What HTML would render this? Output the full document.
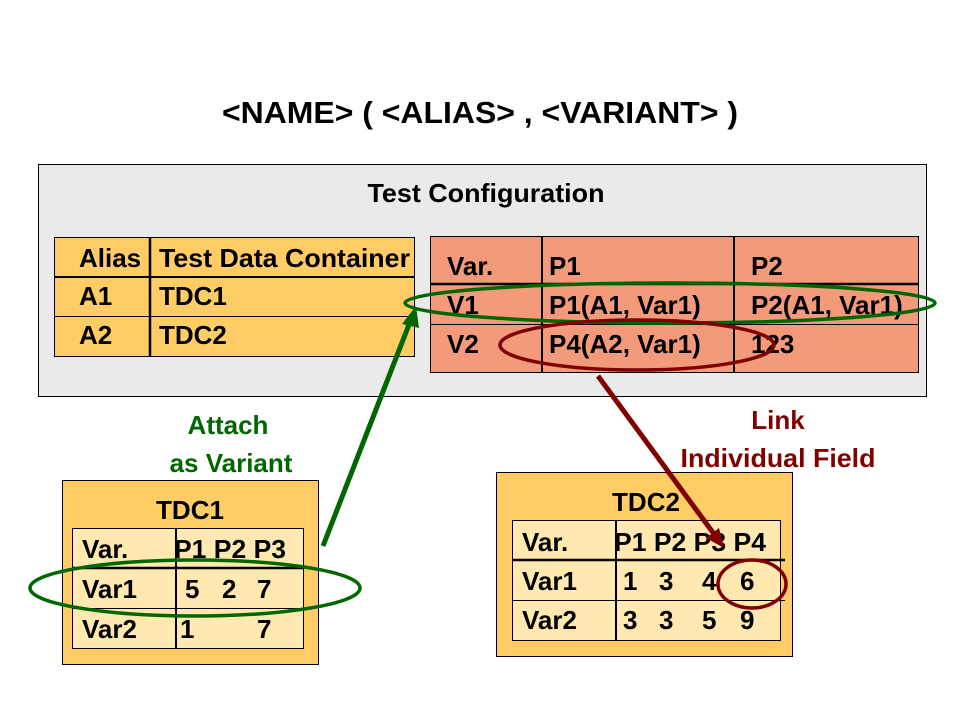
<!DOCTYPE html>
<html><head><meta charset="utf-8"><style>html,body{margin:0;padding:0;background:#fff}svg{display:block}text{font-family:"Liberation Sans",Arial,sans-serif;font-weight:bold;fill:#000}</style></head>
<body>
<svg width="960" height="720" viewBox="0 0 960 720" xmlns="http://www.w3.org/2000/svg">
<text x="480" y="123" font-size="31" text-anchor="middle" textLength="516" lengthAdjust="spacingAndGlyphs">&lt;NAME&gt; ( &lt;ALIAS&gt; , &lt;VARIANT&gt; )</text>
<rect x="38.5" y="164.5" width="888" height="232" fill="#eaeaea" stroke="#000" stroke-width="1"/>
<text x="486" y="202" font-size="26" text-anchor="middle" textLength="237" lengthAdjust="spacingAndGlyphs">Test Configuration</text>
<!-- alias table -->
<rect x="54.5" y="237.5" width="360" height="119" fill="#ffcc66" stroke="#000"/>
<line x1="54" y1="277" x2="414" y2="277" stroke="#000" stroke-width="2"/>
<line x1="54" y1="316.5" x2="414" y2="316.5" stroke="#000" stroke-width="1"/>
<line x1="150" y1="237" x2="150" y2="356" stroke="#000" stroke-width="2.5"/>
<g font-size="26"><text x="79" y="267">Alias</text><text x="159" y="267" textLength="251" lengthAdjust="spacingAndGlyphs">Test Data Container</text>
<text x="79" y="305">A1</text><text x="159" y="305">TDC1</text>
<text x="79" y="344">A2</text><text x="159" y="344">TDC2</text></g>
<!-- variant table -->
<rect x="430.5" y="236.5" width="488" height="136" fill="#f29a7a" stroke="#000"/>
<line x1="430" y1="284" x2="918" y2="284" stroke="#000" stroke-width="2.5"/>
<line x1="430" y1="324.5" x2="918" y2="324.5" stroke="#000" stroke-width="1"/>
<line x1="542" y1="236" x2="542" y2="372" stroke="#000" stroke-width="2"/>
<line x1="734" y1="236" x2="734" y2="372" stroke="#000" stroke-width="2"/>
<g font-size="26"><text x="447" y="275">Var.</text><text x="549" y="275">P1</text><text x="751" y="275">P2</text>
<text x="447" y="314">V1</text><text x="549" y="314">P1(A1, Var1)</text><text x="751" y="314">P2(A1, Var1)</text>
<text x="447" y="353">V2</text><text x="549" y="353">P4(A2, Var1)</text><text x="751" y="353">123</text></g>
<!-- TDC1 -->
<rect x="62.5" y="480.5" width="256" height="184" fill="#ffcc66" stroke="#000"/>
<text x="190" y="519" font-size="26" text-anchor="middle">TDC1</text>
<rect x="72.5" y="528.5" width="231" height="120" fill="#ffe9b0" stroke="#000"/>
<line x1="72" y1="568" x2="303" y2="568" stroke="#000" stroke-width="2.5"/>
<line x1="72" y1="608.5" x2="303" y2="608.5" stroke="#000"/>
<line x1="176" y1="528" x2="176" y2="648" stroke="#000" stroke-width="2"/>
<g font-size="26"><text x="82" y="558">Var.</text><text x="174" y="558" textLength="112" lengthAdjust="spacingAndGlyphs">P1 P2 P3</text>
<text x="82" y="598">Var1</text><text x="185" y="598">5</text><text x="222" y="598">2</text><text x="257" y="598">7</text>
<text x="82" y="638">Var2</text><text x="180" y="638">1</text><text x="257" y="638">7</text></g>
<!-- TDC2 -->
<rect x="496.5" y="472.5" width="296" height="184" fill="#ffcc66" stroke="#000"/>
<text x="646" y="511" font-size="26" text-anchor="middle">TDC2</text>
<rect x="512.5" y="520.5" width="268" height="120" fill="#ffe9b0" stroke="#000"/>
<line x1="512" y1="560" x2="785" y2="560" stroke="#000" stroke-width="2.5"/>
<line x1="512" y1="600.5" x2="785" y2="600.5" stroke="#000"/>
<line x1="616" y1="520" x2="616" y2="640" stroke="#000" stroke-width="2"/>
<g font-size="26"><text x="522" y="551">Var.</text><text x="614" y="551" textLength="152" lengthAdjust="spacingAndGlyphs">P1 P2 P3 P4</text>
<text x="522" y="590">Var1</text><text x="623" y="590">1</text><text x="659" y="590">3</text><text x="702" y="590">4</text><text x="740" y="590">6</text>
<text x="522" y="629">Var2</text><text x="623" y="629">3</text><text x="659" y="629">3</text><text x="702" y="629">5</text><text x="740" y="629">9</text></g>
<!-- ellipses -->
<ellipse cx="670" cy="303" rx="265" ry="20" fill="none" stroke="#006600" stroke-width="3.5"/>
<ellipse cx="195" cy="588" rx="165" ry="28" fill="none" stroke="#006600" stroke-width="3.5"/>
<ellipse cx="637" cy="345" rx="137" ry="25" fill="none" stroke="#800000" stroke-width="3.5"/>
<ellipse cx="752" cy="584" rx="34" ry="24" fill="none" stroke="#800000" stroke-width="3.5"/>
<!-- arrows -->
<line x1="323" y1="546" x2="410" y2="322" stroke="#006600" stroke-width="5"/>
<polygon points="416,306 402,324 419,328" fill="#006600"/>
<line x1="598" y1="376" x2="714" y2="534" stroke="#800000" stroke-width="5"/>
<polygon points="724,548 706,538 719,528" fill="#800000"/>
<!-- labels -->
<g font-size="26" text-anchor="middle">
<text x="228" y="434" style="fill:#006600">Attach</text>
<text x="231" y="472" style="fill:#006600">as Variant</text>
<text x="778" y="429" style="fill:#800000">Link</text>
<text x="778" y="467" style="fill:#800000" textLength="195" lengthAdjust="spacingAndGlyphs">Individual Field</text>
</g>
</svg>
</body></html>
